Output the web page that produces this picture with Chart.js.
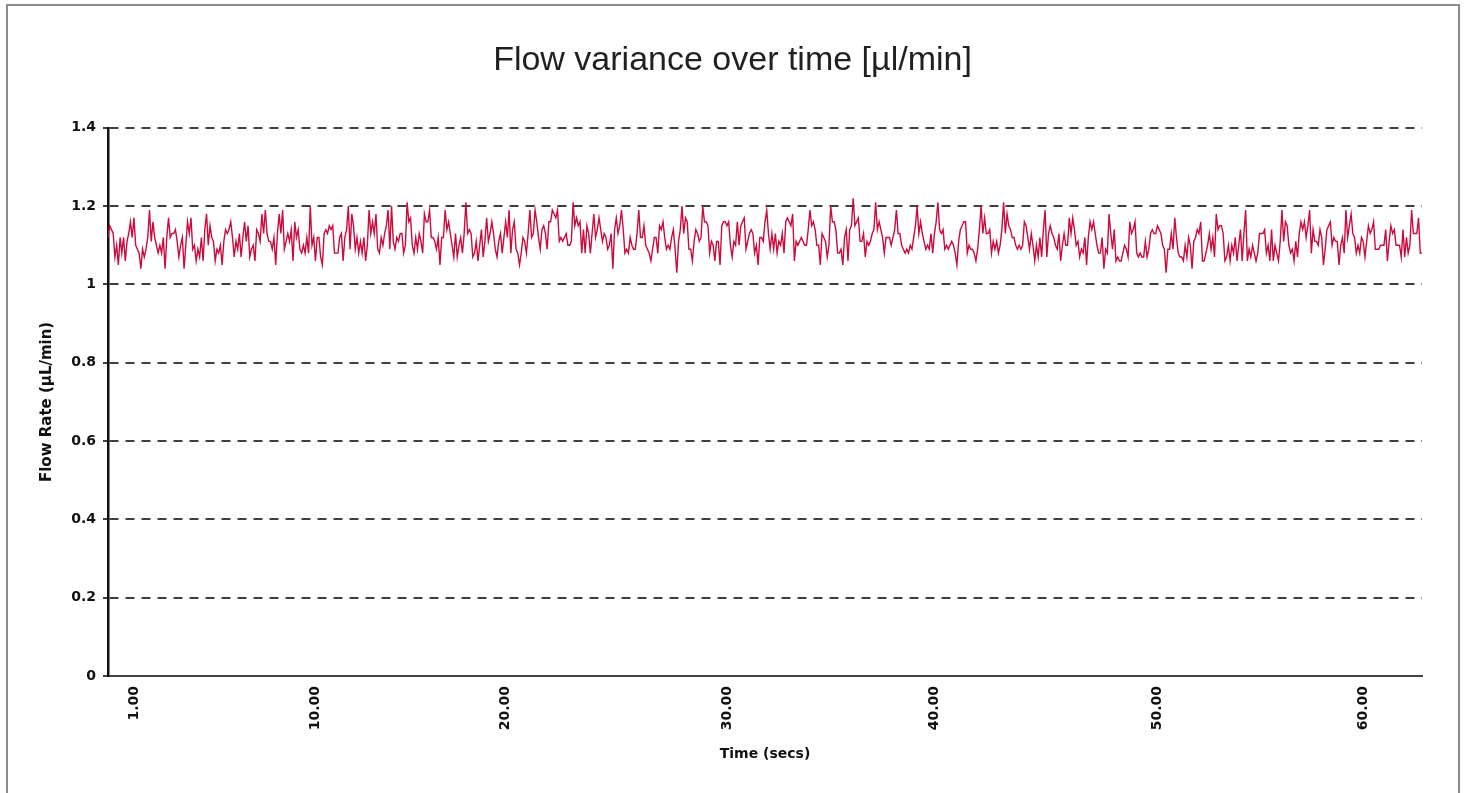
<!DOCTYPE html>
<html>
<head>
<meta charset="utf-8">
<script src="https://cdn.jsdelivr.net/npm/chart.js@4.4.1/dist/chart.umd.min.js"></script>
<style>
    html, body { margin: 0; padding: 0; background: #ffffff; overflow: hidden; }
    #wrap { position: relative; width: 1465px; height: 793px; }
    #moldura {
        position: absolute; left: 6px; top: 4px; width: 1450px; height: 900px;
        border: 2px solid #8c8c8c; pointer-events: none;
    }
</style>
</head>
<body>
<div id="wrap">
    <canvas id="flowChart"></canvas>
    <div id="moldura"></div>
</div>
<script>
// flow rate samples (µL/min) left to right
const flowRate = [
    1.12,1.15,1.14,1.13,1.07,1.10,1.05,1.12,1.08,1.12,
    1.06,1.11,1.13,1.16,1.12,1.17,1.10,1.09,1.08,1.04,
    1.09,1.07,1.09,1.12,1.19,1.11,1.16,1.12,1.10,1.08,
    1.10,1.08,1.12,1.04,1.12,1.17,1.12,1.13,1.13,1.14,
    1.11,1.07,1.10,1.12,1.04,1.10,1.16,1.13,1.17,1.09,
    1.10,1.06,1.09,1.07,1.12,1.06,1.14,1.18,1.10,1.15,
    1.12,1.11,1.06,1.09,1.08,1.10,1.05,1.11,1.14,1.13,
    1.14,1.16,1.12,1.07,1.11,1.09,1.13,1.07,1.12,1.16,
    1.11,1.15,1.07,1.09,1.10,1.06,1.14,1.13,1.11,1.18,
    1.13,1.19,1.13,1.11,1.11,1.09,1.12,1.05,1.13,1.18,
    1.13,1.19,1.09,1.11,1.13,1.11,1.14,1.06,1.16,1.12,
    1.14,1.09,1.08,1.10,1.08,1.12,1.08,1.20,1.10,1.12,
    1.06,1.12,
    1.12,1.07,1.05,1.13,1.14,1.13,1.15,1.14,1.15,1.08,
    1.08,1.08,1.12,1.13,1.06,1.12,1.14,1.20,1.09,1.18,
    1.15,1.09,1.12,1.08,1.11,1.08,1.12,1.06,1.10,1.19,
    1.13,1.16,1.13,1.18,1.09,1.08,1.12,1.10,1.13,1.15,
    1.19,1.09,1.20,1.11,1.09,1.12,1.11,1.13,1.13,1.08,
    1.10,1.21,1.16,1.17,1.10,1.08,1.12,1.09,1.13,1.11,
    1.08,1.18,1.16,1.16,1.19,1.12,1.12,1.11,1.09,1.12,
    1.05,1.12,1.12,1.19,1.14,1.16,1.13,1.10,1.07,1.13,
    1.07,1.10,1.12,1.08,1.13,1.21,1.13,1.14,1.13,1.07,
    1.08,1.11,1.06,1.10,1.14,1.07,1.11,1.17,1.11,1.13,
    1.16,1.13,1.09,1.07,1.11,1.13,1.08,1.12,1.16,1.12,
    1.19,1.08,1.14,1.16,1.09,1.08,1.05,1.08,1.12,1.11,
    1.08,1.13,1.19,1.12,1.13,1.19,1.16,1.12,1.09,1.14,
    1.15,1.13,1.09,1.16,1.16,1.19,1.18,1.17,
    1.19,1.11,1.12,1.11,1.12,1.13,1.10,1.10,1.11,1.21,
    1.15,1.17,1.15,1.16,1.08,1.14,1.08,1.15,1.13,1.08,
    1.13,1.18,1.12,1.14,1.17,1.14,1.11,1.13,1.12,1.09,
    1.10,1.13,1.04,1.14,1.17,1.13,1.15,1.19,1.14,1.08,
    1.09,1.08,1.12,1.10,1.09,1.09,1.13,1.19,1.12,1.12,
    1.15,1.10,1.09,1.08,1.06,1.09,1.12,1.12,1.08,1.15,
    1.14,1.16,1.12,1.09,1.10,1.09,1.12,1.14,1.09,1.03,
    1.11,1.14,1.20,1.13,1.17,1.16,1.09,1.09,1.06,1.11,
    1.14,1.13,1.11,1.12,1.20,1.16,1.16,1.15,1.08,1.11,
    1.10,1.06,1.11,1.11,1.05,1.15,1.16,1.16,1.15,1.16,
    1.10,1.07,1.11,1.10,1.16,1.10,1.15,1.16,1.17,1.09,
    1.11,1.13,1.14,1.13,1.08,1.10,1.05,1.12,1.12,1.11,
    1.16,1.19,1.13,1.09,1.13,1.09,1.13,1.08,1.11,1.10,
    1.13,1.08,1.16,1.17,1.16,1.15,1.18,1.06,1.11,1.10,
    1.11,1.12,1.11,1.10,
    1.10,1.14,1.19,1.15,1.16,1.14,1.10,1.10,1.05,1.13,
    1.12,1.11,1.07,1.10,1.20,1.16,1.16,1.14,1.08,1.08,
    1.09,1.05,1.12,1.14,1.06,1.14,1.15,1.22,1.15,1.16,
    1.17,1.11,1.11,1.13,1.07,1.11,1.10,1.11,1.13,1.14,
    1.21,1.14,1.16,1.14,1.12,1.08,1.12,1.12,1.12,1.10,
    1.12,1.14,1.19,1.13,1.13,1.10,1.09,1.08,1.09,1.08,
    1.10,1.09,1.12,1.15,1.20,1.13,1.16,1.13,1.11,1.09,
    1.10,1.09,1.13,1.08,1.13,1.16,1.21,1.14,1.13,1.14,
    1.09,1.10,1.09,1.10,1.11,1.10,1.08,1.05,1.11,1.14,
    1.15,1.16,1.16,1.08,1.10,1.09,1.09,1.08,1.06,1.09,
    1.14,1.20,1.13,1.17,1.13,1.13,1.14,1.08,1.11,1.09,
    1.11,1.08,1.10,1.14,1.21,1.13,1.18,1.15,1.14,1.12,
    1.12,1.10,1.09,1.10,1.09,1.10,1.16,1.15,1.12,1.09,
    1.13,1.10,1.06,1.10,1.07,1.12,1.07,1.14,1.19,1.07,
    1.13,1.15,1.13,1.12,
    1.10,1.09,1.13,1.06,1.10,1.13,1.10,1.10,1.17,1.13,
    1.17,1.14,1.10,1.11,1.07,1.09,1.08,1.12,1.05,1.12,
    1.16,1.14,1.16,1.13,1.10,1.08,1.08,1.12,1.04,1.09,
    1.08,1.18,1.13,1.09,1.14,1.06,1.07,1.06,1.06,1.08,
    1.10,1.09,1.07,1.16,1.13,1.14,1.16,1.08,1.07,1.08,
    1.07,1.07,1.11,1.07,1.09,1.13,1.14,1.13,1.13,1.15,
    1.14,1.13,1.10,1.09,1.03,1.09,1.09,1.13,1.09,1.17,
    1.12,1.08,1.07,1.07,1.06,1.10,1.07,1.12,1.10,1.04,
    1.11,1.12,1.14,1.13,1.16,1.06,1.06,1.08,1.10,1.13,
    1.09,1.12,1.07,1.18,1.14,1.15,1.15,1.13,1.06,1.07,
    1.10,1.06,1.10,1.08,1.12,1.06,1.10,1.14,1.06,1.13,
    1.19,1.06,1.09,1.07,1.10,1.08,1.06,1.08,1.13,1.13,
    1.13,1.14,1.08,1.10,1.06,1.14,1.06,1.10,1.08,1.06,
    1.11,1.19,1.11,1.16,1.15,1.10,1.08,1.09,1.06,1.11,
    1.07,1.13,1.16,1.14,
    1.16,1.12,1.15,1.19,1.08,1.14,1.11,1.11,1.10,1.14,
    1.12,1.05,1.09,1.14,1.15,1.16,1.10,1.12,1.11,1.11,
    1.05,1.10,1.12,1.08,1.19,1.12,1.15,1.18,1.13,1.12,
    1.08,1.10,1.08,1.12,1.11,1.07,1.11,1.15,1.13,1.14,
    1.16,1.09,1.09,1.09,1.10,1.10,1.10,1.14,1.06,1.11,
    1.15,1.13,1.14,1.10,1.10,1.10,1.07,1.14,1.07,1.12,
    1.08,1.10,1.19,1.13,1.13,1.13,1.17,1.08,1.08
];

// x ticks: which sample sits under each printed time
const tickSamples = [15, 120, 230, 358, 478, 607, 726];
const tickLabels = ['1.00', '10.00', '20.00', '30.00', '40.00', '50.00', '60.00'];

const yTicks = [0, 0.2, 0.4, 0.6, 0.8, 1, 1.2, 1.4];

const coresUsadas = {
    linha: '#cc0a3c',
    grade: '#3f3f3f',
    eixo: '#111111',
    texto: '#111111',
    titulo: '#231f20'
};

const estiloEixo = {
    color: coresUsadas.texto,
    font: {
        family: "'DejaVu Sans', sans-serif",
        weight: 'bold',
        size: 14
    }
};

const pontos = flowRate.map((v, i) => ({ x: i, y: v }));

const ctx = document.getElementById('flowChart');

new Chart(ctx, {
    type: 'line',
    data: {
        datasets: [{
            data: pontos,
            borderColor: coresUsadas.linha,
            borderWidth: 1.4,
            pointRadius: 0,
            tension: 0,
            fill: false
        }]
    },
    options: {
        responsive: true,
        maintainAspectRatio: false,
        animation: false,
        layout: {
            // same padding both sides so the title sits on the page centre
            padding: { top: 0, left: 43, right: 43, bottom: 0 }
        },
        plugins: {
            legend: { display: false },
            tooltip: { enabled: false },
            title: {
                display: true,
                text: 'Flow variance over time [µl/min]',
                color: coresUsadas.titulo,
                font: { family: "'Liberation Sans', Arial, sans-serif", size: 34, weight: 'normal', lineHeight: 1.2 },
                padding: { top: 40, bottom: 47 }
            }
        },
        scales: {
            x: {
                type: 'linear',
                min: 0,
                max: flowRate.length - 1,
                afterBuildTicks: function (scale) {
                    scale.ticks = tickSamples.map(v => ({ value: v }));
                },
                afterFit: function (scale) {
                    scale.height = 117;
                },
                ticks: {
                    ...estiloEixo,
                    autoSkip: false,
                    minRotation: 90,
                    maxRotation: 90,
                    padding: 10,
                    callback: function (value) {
                        const idx = tickSamples.indexOf(value);
                        return idx >= 0 ? tickLabels[idx] : '';
                    }
                },
                grid: { display: false, drawTicks: false },
                border: { display: true, color: '#444444', width: 2 },
                title: {
                    display: true,
                    text: 'Time (secs)',
                    ...estiloEixo,
                    padding: { top: 0, bottom: 30 }
                }
            },
            y: {
                min: 0,
                max: 1.4,
                afterBuildTicks: function (scale) {
                    scale.ticks = yTicks.map(v => ({ value: v }));
                },
                afterFit: function (scale) {
                    scale.width = 65;
                },
                ticks: {
                    ...estiloEixo,
                    padding: 7,
                    callback: function (value) {
                        return String(Math.round(value * 10) / 10);
                    }
                },
                grid: {
                    color: function (c) {
                        return c.tick && c.tick.value === 0 ? 'rgba(0,0,0,0)' : coresUsadas.grade;
                    },
                    lineWidth: 2,
                    tickLength: 5,
                    tickColor: coresUsadas.grade,
                    tickBorderDash: []
                },
                border: { display: true, color: coresUsadas.eixo, width: 2.5, dash: [9, 7] },
                title: {
                    display: true,
                    text: 'Flow Rate (µL/min)',
                    color: coresUsadas.texto,
                    font: { family: "'DejaVu Sans', sans-serif", weight: 'bold', size: 15 },
                    padding: { top: -5, bottom: 0 }
                }
            }
        }
    }
});
</script>
</body>
</html>
